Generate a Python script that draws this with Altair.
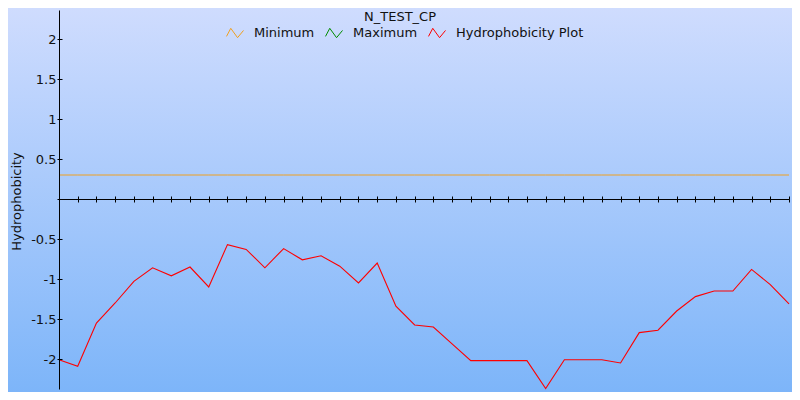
import altair as alt
import pandas as pd

# ---- data ----
positions = list(range(40))
hydrophobicity = [-2.01, -2.09, -1.55, -1.30, -1.03, -0.86, -0.96, -0.85, -1.10, -0.57,
                  -0.63, -0.86, -0.62, -0.76, -0.71, -0.84, -1.05, -0.80, -1.34, -1.575,
                  -1.60, -1.81, -2.02, -2.02, -2.02, -2.02, -2.37, -2.01, -2.01, -2.01,
                  -2.05, -1.67, -1.64, -1.40, -1.22, -1.15, -1.15, -0.88, -1.07, -1.31]
minimum = [0.30] * 40
series_names = ["Minimum", "Maximum", "Hydrophobicity Plot"]
series_colors = ["#f0a020", "#008c00", "#ff0000"]
y_ticks = [-2, -1.5, -1, -0.5, 0, 0.5, 1, 1.5, 2]
chart_title = "N_TEST_CP"
y_title = "Hydrophobicity"

FONT = "DejaVu Sans"
W, H = 730, 379

df_h = pd.DataFrame({"pos": positions, "value": hydrophobicity, "series": "Hydrophobicity Plot"})
df_min = pd.DataFrame({"pos": positions, "value": minimum, "series": "Minimum"})

x_scale = alt.Scale(domain=[0, 39], nice=False, zero=False)
y_scale = alt.Scale(domain=[-2.375, 2.3625], nice=False, zero=False)

legend = alt.Legend(
    orient="none", legendX=167, legendY=14, direction="horizontal", title=None,
    padding=0, symbolType="M-1,0.4L-0.5,-0.55L0.3,0.55L1,-0.3", symbolSize=289,
    symbolStrokeWidth=1, symbolFillColor="transparent", labelFont=FONT,
    labelFontSize=13, labelOffset=10, columnPadding=8, labelColor="#111111",
    labelLimit=400,
)
color = alt.Color("series:N", scale=alt.Scale(domain=series_names, range=series_colors),
                  legend=legend)

gradient = alt.LinearGradient(
    gradient="linear",
    stops=[alt.GradientStop(color="#cfdcfe", offset=0),
           alt.GradientStop(color="#7db5f9", offset=1)],
    x1=0, x2=0, y1=0, y2=1,
)
bg = alt.Chart(pd.DataFrame({"a": [0]})).mark_rect(fill=gradient, stroke="transparent").encode(
    x=alt.value(-51), x2=alt.value(W + 3), y=alt.value(-2), y2=alt.value(H + 3)
)

title = alt.Chart(pd.DataFrame({"t": [chart_title]})).mark_text(
    font=FONT, fontSize=13, color="#111111", align="center", baseline="alphabetic"
).encode(text="t:N", x=alt.value(341), y=alt.value(10.5))

hydro = alt.Chart(df_h).mark_line(strokeWidth=1.1).encode(
    x=alt.X("pos:Q", scale=x_scale, axis=alt.Axis(
        orient="bottom", offset=-190, values=positions, labels=False, title=None,
        tickSize=3, tickColor="black", tickWidth=1, domainColor="black", domainWidth=1,
        grid=False, zindex=1)),
    y=alt.Y("value:Q", scale=y_scale, axis=alt.Axis(
        orient="left", values=y_ticks, labelExpr="datum.value == 0 ? '' : '' + datum.value",
        tickSize=2, tickColor="black", tickWidth=1, domainColor="black", domainWidth=1,
        labelPadding=1, labelFont=FONT, labelFontSize=13, labelColor="#111111",
        grid=False, zindex=1, title=y_title, titleFont=FONT, titleFontSize=13,
        titleFontWeight="normal", titleColor="#111111", titleAngle=-90,
        titleX=-43, titleY=191, titleAlign="center", titleBaseline="middle")),
    color=color,
)

mini = alt.Chart(df_min).mark_line(strokeWidth=1).encode(
    x=alt.X("pos:Q", scale=x_scale, axis=alt.Axis(
        orient="top", offset=-189, values=positions, labels=False, title=None,
        tickSize=3, tickColor="black", tickWidth=1, domain=False, grid=False, zindex=1)),
    y=alt.Y("value:Q", scale=y_scale, axis=alt.Axis(
        orient="right", offset=-W, values=y_ticks, labels=False, title=None,
        tickSize=3, tickColor="black", tickWidth=1, domain=False, grid=False, zindex=1)),
    color=color,
)

chart = alt.layer(bg, mini, hydro, title).resolve_axis(x="independent", y="independent").properties(
    width=W, height=H,
    autosize=alt.AutoSizeParams(type="none"),
    padding={"left": 51, "top": 2, "right": 3, "bottom": 3},
).configure_view(strokeWidth=0)

chart.save("out.html", embed_options={"renderer": "svg", "actions": False})
